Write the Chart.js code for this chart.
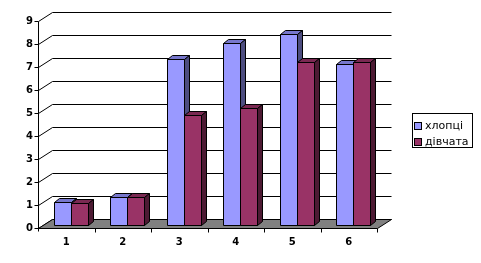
<!DOCTYPE html>
<html>
<head>
<meta charset="utf-8">
<script src="https://cdn.jsdelivr.net/npm/chart.js@4"></script>
<style>
  html, body { margin: 0; padding: 0; background: #fff; }
  #wrap { width: 481px; height: 263px; }
</style>
</head>
<body>
<div id="wrap"><canvas id="myChart" width="481" height="263"></canvas></div>
<script>
const categories = ['1', '2', '3', '4', '5', '6'];
const boys = [1.0, 1.2, 7.2, 7.9, 8.3, 7.0];
const girls = [0.95, 1.2, 4.8, 5.1, 7.1, 7.1];
const seriesNames = ['хлопці', 'дівчата'];

// 3d look: back wall offset, bar plane offset, bar depth
const wall = { dx: 14, dy: -9 };
const shift = { dx: 4.5, dy: -3 };
const depth = { dx: 5, dy: -4 };

const faces = [
    { front: '#9999FF', top: '#7777CC', side: '#4D4D80' },
    { front: '#993366', top: '#7A2952', side: '#4D1A33' }
];

function poly(ctx, pts, fill) {
    ctx.beginPath();
    ctx.moveTo(pts[0][0], pts[0][1]);
    for (let i = 1; i < pts.length; i++) ctx.lineTo(pts[i][0], pts[i][1]);
    ctx.closePath();
    if (fill) {
        ctx.fillStyle = fill;
        ctx.fill();
    }
    ctx.stroke();
}

const excel3d = {
    id: 'excel3d',
    beforeDatasetsDraw(chart) {
        const ctx = chart.ctx;
        const area = chart.chartArea;
        const yScale = chart.scales.y;
        const left = Math.round(area.left) + 0.5;
        const right = Math.round(area.right) + 0.5;
        const bottom = Math.round(area.bottom) + 0.5;

        ctx.save();
        ctx.lineWidth = 1;
        ctx.strokeStyle = '#000';

        // gridlines on side and back wall
        yScale.ticks.forEach(t => {
            const y = Math.round(yScale.getPixelForValue(t.value)) + 0.5;
            ctx.beginPath();
            ctx.moveTo(left - 4, y);
            ctx.lineTo(left, y);
            ctx.lineTo(left + wall.dx, y + wall.dy);
            ctx.lineTo(right + wall.dx, y + wall.dy);
            ctx.stroke();
        });

        // floor
        poly(ctx, [
            [left, bottom],
            [left + wall.dx, bottom + wall.dy],
            [right + wall.dx, bottom + wall.dy],
            [right, bottom]
        ], '#808080');

        // value axis line
        ctx.beginPath();
        ctx.moveTo(left, Math.round(area.top) + 0.5);
        ctx.lineTo(left, bottom + 3);
        ctx.stroke();

        // category tick marks
        const step = (area.right - area.left) / categories.length;
        for (let i = 1; i <= categories.length; i++) {
            const x = Math.round(area.left + step * i) + 0.5;
            ctx.beginPath();
            ctx.moveTo(x, bottom);
            ctx.lineTo(x, bottom + 4);
            ctx.stroke();
        }

        // bars, category by category so the 3d faces overlap right
        const metas = chart.data.datasets.map((d, i) => chart.getDatasetMeta(i));
        for (let i = 0; i < categories.length; i++) {
            metas.forEach((meta, di) => {
                const el = meta.data[i];
                const x0 = Math.round(el.x - el.width / 2 + shift.dx) + 0.5;
                const x1 = Math.round(el.x + el.width / 2 + shift.dx) + 0.5;
                const yt = Math.round(el.y + shift.dy) + 0.5;
                const yb = Math.round(el.base + shift.dy) + 0.5;
                const f = faces[di];
                poly(ctx, [[x0, yt], [x1, yt], [x1, yb], [x0, yb]], f.front);
                poly(ctx, [[x0, yt], [x0 + depth.dx, yt + depth.dy], [x1 + depth.dx, yt + depth.dy], [x1, yt]], f.top);
                poly(ctx, [[x1, yt], [x1 + depth.dx, yt + depth.dy], [x1 + depth.dx, yb + depth.dy], [x1, yb]], f.side);
            });
        }

        // legend box
        ctx.strokeRect(412.5, 113.5, 60, 34);
        ctx.font = '11px "DejaVu Sans"';
        ctx.textBaseline = 'middle';
        ctx.textAlign = 'left';
        chart.data.datasets.forEach((d, i) => {
            const y = 122 + i * 16;
            ctx.fillStyle = faces[i].front;
            ctx.fillRect(414.5, y + 0.5, 7, 7);
            ctx.strokeRect(414.5, y + 0.5, 7, 7);
            ctx.fillStyle = '#000';
            ctx.fillText(d.label, 425, y + 4);
        });

        ctx.restore();
        return false;
    }
};

const tickFont = { family: 'DejaVu Sans', size: 10, weight: 'bold' };

new Chart(document.getElementById('myChart').getContext('2d'), {
    type: 'bar',
    data: {
        labels: categories,
        datasets: [
            { label: seriesNames[0], data: boys, backgroundColor: faces[0].front },
            { label: seriesNames[1], data: girls, backgroundColor: faces[1].front }
        ]
    },
    options: {
        responsive: false,
        animation: false,
        categoryPercentage: 0.6,
        barPercentage: 1,
        layout: { padding: { left: 0, top: 21, right: 104, bottom: 0 } },
        plugins: {
            legend: { display: false },
            tooltip: { enabled: false }
        },
        scales: {
            x: {
                grid: { display: false, drawTicks: false },
                border: { display: false },
                ticks: { color: '#000', font: tickFont, padding: 8, maxRotation: 0 },
                afterFit: s => { s.height = 35; }
            },
            y: {
                min: 0,
                max: 9,
                grid: { display: false, drawTicks: false },
                border: { display: false },
                ticks: { stepSize: 1, color: '#000', font: tickFont, padding: 5 },
                afterFit: s => { s.width = 38; }
            }
        }
    },
    plugins: [excel3d]
});
</script>
</body>
</html>
